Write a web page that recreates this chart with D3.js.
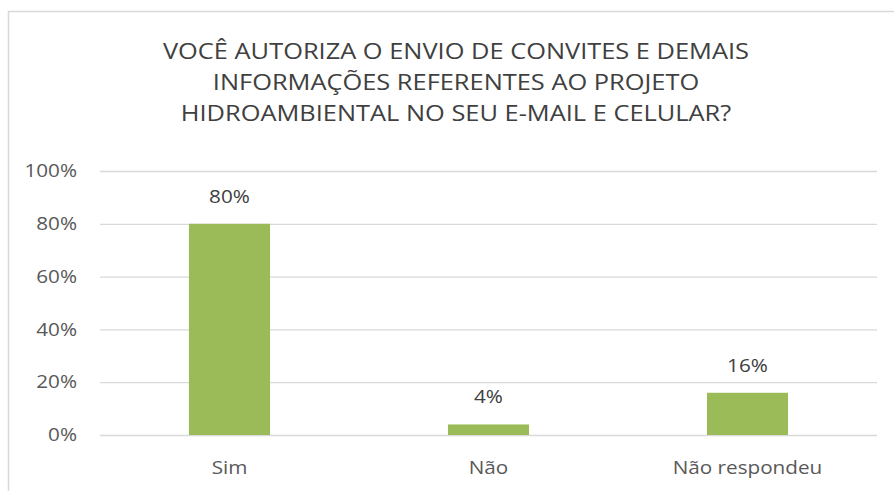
<!DOCTYPE html>
<html>
<head>
<meta charset="utf-8">
<script src="https://cdn.jsdelivr.net/npm/d3@7"></script>
<style>
  html, body { margin: 0; padding: 0; background: #fff; }
  svg { display: block; }
</style>
</head>
<body>
<svg id="chart" width="894" height="491"></svg>
<script>
// Survey answers (share of respondents)
const categories = ["Sim", "Não", "Não respondeu"];
const values = [0.80, 0.04, 0.16];
const yTicks = [0, 0.2, 0.4, 0.6, 0.8, 1.0];
const titleLines = [
  "VOCÊ AUTORIZA O ENVIO DE CONVITES E DEMAIS",
  "INFORMAÇÕES REFERENTES AO PROJETO",
  "HIDROAMBIENTAL NO SEU E-MAIL E CELULAR?"
];

const font = "'Open Sans', 'Noto Sans', sans-serif";
const labelSize = 18, labelStretch = 1.15;
const titleSize = 21, titleStretch = 1.21;
const svg = d3.select("#chart");

// chart frame
svg.append("rect")
  .attr("x", 8.5).attr("y", 11.5)
  .attr("width", 1000).attr("height", 1000)
  .attr("fill", "#fff")
  .attr("stroke", "#d9d9d9").attr("stroke-width", 1.5);

const plot = { left: 100, right: 877, top: 171, bottom: 435 };

const x = d3.scaleBand()
  .domain(categories)
  .range([plot.left, plot.right])
  .paddingInner(0.687)
  .paddingOuter(0.3435);

const y = d3.scaleLinear()
  .domain([0, 1])
  .range([plot.bottom, plot.top]);

// title (slightly widened lettering)
svg.append("g")
  .selectAll("text")
  .data(titleLines)
  .join("text")
  .attr("transform", (d, i) => `translate(456,${58.5 + i * 31.3}) scale(${titleStretch},1)`)
  .attr("text-anchor", "middle")
  .attr("font-family", font)
  .attr("font-size", titleSize)
  .attr("fill", "#404040")
  .text(d => d);

// y axis with gridlines
const yPad = 23;
const yAxis = d3.axisLeft(y)
  .tickValues(yTicks)
  .tickFormat(d3.format(".0%"))
  .tickSize(-(plot.right - plot.left))
  .tickPadding(yPad);

const gy = svg.append("g")
  .attr("transform", `translate(${plot.left},0)`)
  .call(yAxis);
gy.select(".domain").remove();
gy.selectAll(".tick line").attr("stroke", "#d9d9d9").attr("stroke-width", 1.3);
gy.selectAll(".tick text")
  .attr("x", -yPad / labelStretch)
  .attr("transform", `scale(${labelStretch},1)`)
  .attr("font-family", font)
  .attr("font-size", labelSize)
  .attr("fill", "#595959");

// bars
svg.append("g")
  .selectAll("rect")
  .data(values)
  .join("rect")
  .attr("x", (d, i) => x(categories[i]))
  .attr("width", x.bandwidth())
  .attr("y", d => y(d))
  .attr("height", d => y(0) - y(d))
  .attr("fill", "#9bbb59");

// value labels
svg.append("g")
  .selectAll("text")
  .data(values)
  .join("text")
  .attr("transform", (d, i) =>
    `translate(${x(categories[i]) + x.bandwidth() / 2},${y(d) - 21}) scale(${labelStretch},1)`)
  .attr("text-anchor", "middle")
  .attr("font-family", font)
  .attr("font-size", labelSize)
  .attr("fill", "#404040")
  .text(d => d3.format(".0%")(d));

// x axis labels
const xAxis = d3.axisBottom(x).tickSize(0).tickPadding(26);
const gx = svg.append("g")
  .attr("transform", `translate(0,${plot.bottom})`)
  .call(xAxis);
gx.select(".domain").remove();
gx.selectAll(".tick text")
  .attr("transform", `scale(${labelStretch},1)`)
  .attr("font-family", font)
  .attr("font-size", labelSize)
  .attr("fill", "#595959");
</script>
</body>
</html>
